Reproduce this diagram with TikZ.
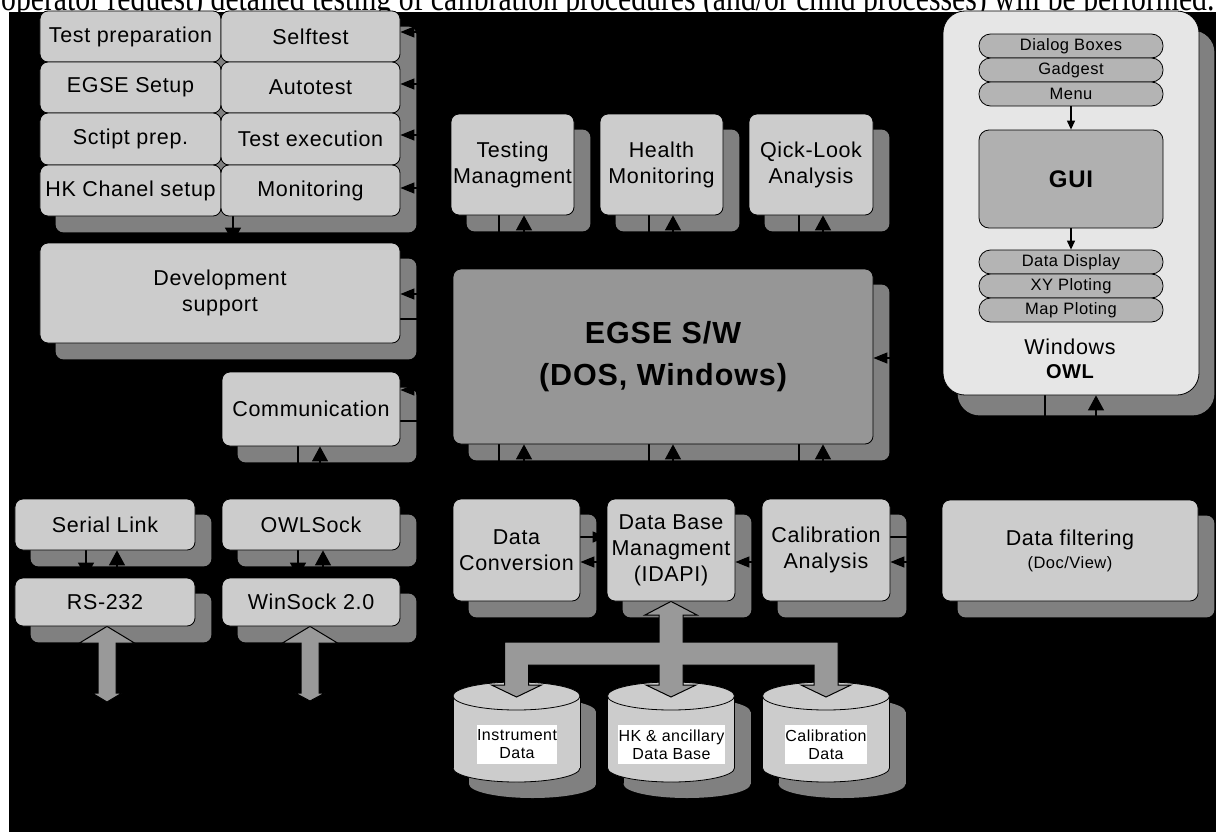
\documentclass[tikz,border=0pt]{standalone}
\usepackage{fontspec}
\usepackage{graphicx}
\usetikzlibrary{arrows.meta}
\newfontfamily\lab[LetterSpace=3]{Liberation Sans}
\newfontfamily\topfont{Liberation Serif}
\definecolor{boxg}{HTML}{CCCCCC}
\definecolor{shadeg}{HTML}{808080}
\definecolor{egseg}{HTML}{969696}
\definecolor{pillg}{HTML}{B4B4B4}
\definecolor{guig}{HTML}{B0B0B0}
\definecolor{panelg}{HTML}{E6E6E6}
\definecolor{pipeg}{HTML}{999999}
\pgfdeclarelayer{bg}
\pgfdeclarelayer{shade}
\pgfdeclarelayer{wires}
\pgfsetlayers{bg,shade,wires,main}
\tikzset{
  lbl/.style={font=\lab\fontsize{21.5bp}{26bp}\selectfont},
  sz/.style 2 args={minimum width=#1bp, minimum height=#2bp},
  box/.style={draw=black, line width=0.8bp, fill=boxg, rounded corners=8bp,
    inner sep=0pt, align=center, text=black, lbl},
  pill/.style={draw=black, line width=0.8bp, fill=pillg, rounded corners=11.5bp,
    inner sep=0pt, minimum width=184bp, minimum height=24bp,
    font=\lab\fontsize{16.5bp}{19bp}\selectfont},
  tag/.style={fill=white, inner sep=0pt, align=center,
    font=\lab\fontsize{16bp}{18bp}\selectfont},
  wire/.style={draw=black, line width=1.2bp},
  tov/.style={-{Triangle[length=15bp,width=16bp]}},
  toh/.style={-{Triangle[length=14bp,width=11bp]}},
  pipe/.style={fill=pipeg, draw=black, line width=1bp, line join=miter},
}
% drop shadow of a box (or a group of boxes), offset down-right
\newcommand\castshadow[3][8bp]{%
  \fill[shadeg, rounded corners=#1] ([shift={(16,16)}]#2.north west)
    rectangle ([shift={(16,16)}]#3.south east);}
% data base cylinder with its shadow
\newcommand\dbdrum[1]{%
  \begin{pgfonlayer}{shade}
    \fill[shadeg] (#1+16-63.5,712) rectangle (#1+16+63.5,784);
    \fill[shadeg] (#1+16,784) ellipse [x radius=63.5bp, y radius=14bp];
    \fill[shadeg] (#1+16,712) ellipse [x radius=63.5bp, y radius=14bp];
  \end{pgfonlayer}
  \begin{pgfonlayer}{wires}
    \filldraw[fill=boxg, draw=black, line width=0.8bp] (#1,768) ellipse [x radius=63.5bp, y radius=14bp];
    \fill[boxg] (#1-63.5,696) rectangle (#1+63.5,768);
    \draw[black, line width=0.8bp] (#1-63.5,696) -- (#1-63.5,768) (#1+63.5,696) -- (#1+63.5,768);
    \filldraw[fill=boxg, draw=black, line width=0.8bp] (#1,696) ellipse [x radius=63.5bp, y radius=14bp];
  \end{pgfonlayer}}
\begin{document}
\begin{tikzpicture}[x=1bp, y=-1bp]
\useasboundingbox (0,0) rectangle (1216,832);

% ---- page background and the caption line above the figure
\begin{pgfonlayer}{bg}
  \fill[white] (0,0) rectangle (1216,832);
  \begin{scope}
    \clip (0,0) rectangle (1216,832);
    \node[anchor=base west, inner sep=0pt, font=\topfont\fontsize{26bp}{30bp}\selectfont] (note) at (1,10.5)
      {\scalebox{1}[1.25]{\resizebox{1213bp}{!}{operator request) detailed testing of calibration procedures (and/or child processes) will be performed.}}};
  \end{scope}
  \fill[black] (9,12) rectangle (1216,832);
\end{pgfonlayer}

% ---- test tasks
\node[box, sz={181}{51}] (tp)  at (130.5,36.5) {Test preparation};
\node[box, sz={179}{51}] (st)  at (310.5,36.5) {Selftest};
\node[box, sz={181}{51}] (es)  at (130.5,87.5) {EGSE Setup};
\node[box, sz={179}{51}] (at)  at (310.5,87.5) {Autotest};
\node[box, sz={181}{52}] (sp)  at (130.5,139) {Sctipt prep.};
\node[box, sz={179}{52}] (te)  at (310.5,139) {Test execution};
\node[box, sz={181}{51}] (hk)  at (130.5,190.5) {HK Chanel setup};
\node[box, sz={179}{51}] (mon) at (310.5,190.5) {Monitoring};

% ---- upper modules
\node[box, sz={123}{101}] (tm) at (512.5,164.5) {Testing\\Managment};
\node[box, sz={123}{101}] (hm) at (661.5,164.5) {Health\\Monitoring};
\node[box, sz={124}{101}] (ql) at (811,164.5) {Qick-Look\\Analysis};

% ---- core
\node[box, fill=egseg, sz={420}{175}, font=\lab\bfseries\fontsize{30.5bp}{42bp}\selectfont]
  (egse) at (663,356.5) {EGSE S/W\\(DOS, Windows)};

\node[box, sz={360}{100}] (dev)  at (220,293) {Development\\support};
\node[box, sz={178}{74}]  (comm) at (311,409) {Communication};

% ---- links
\node[box, sz={180}{51}] (sl)  at (105,524.5) {Serial Link};
\node[box, sz={180}{48}] (rs)  at (105,602) {RS-232};
\node[box, sz={178}{51}] (ows) at (311,524.5) {OWLSock};
\node[box, sz={178}{48}] (ws)  at (311,602) {WinSock 2.0};

% ---- data handling
\node[box, sz={127}{102}] (dc)  at (516.5,550) {Data\\Conversion};
\node[box, sz={128}{102}] (dbm) at (671,550) {Data Base\\Managment\\(IDAPI)};
\node[box, sz={128}{102}] (ca)  at (826,550) {Calibration\\Analysis};
\node[box, sz={256}{101}] (df)  at (1070,550.5) {Data filtering\\[-3bp]{\fontsize{16.5bp}{20bp}\selectfont(Doc/View)}};

% ---- Windows / OWL panel
\node[draw=black, line width=0.8bp, fill=panelg, rounded corners=22bp, inner sep=0pt,
  sz={256}{384}] (owl) at (1071,203) {};
\node[pill] (dlg)  at (1071,46) {Dialog Boxes};
\node[pill] (gad)  at (1071,70) {Gadgest};
\node[pill] (menu) at (1071,94) {Menu};
\node[box, fill=guig, rounded corners=10bp, sz={184}{98},
  font=\lab\bfseries\fontsize{24bp}{28bp}\selectfont] (gui) at (1071,179) {GUI};
\node[pill] (dd) at (1071,262) {Data Display};
\node[pill] (xy) at (1071,286) {XY Ploting};
\node[pill] (mp) at (1071,310) {Map Ploting};
\node[lbl, inner sep=0pt] (win) at (1070,347) {Windows};
\node[inner sep=0pt, font=\lab\bfseries\fontsize{20bp}{24bp}\selectfont] (owlt) at (1070,372) {OWL};
\draw[wire, -{Triangle[length=9bp,width=8bp]}] (menu.south) -- (gui.north);
\draw[wire, -{Triangle[length=9bp,width=8bp]}] (gui.south) -- (dd.north);

% ---- data bases
\dbdrum{516.5}
\dbdrum{671}
\dbdrum{826}
\coordinate (dbI) at (516.5,696);
\coordinate (dbH) at (671,696);
\coordinate (dbC) at (826,696);
\node[tag, sz={80}{39}]  (instr) at (517,744.5)   {Instrument\\Data};
\node[tag, sz={107}{39}] (hkdb)  at (671.5,744.5) {HK \& ancillary\\Data Base};
\node[tag, sz={82}{39}]  (cald)  at (826,744.5)   {Calibration\\Data};

% ---- shadows
\begin{pgfonlayer}{shade}
  \castshadow{tp}{mon}
  \foreach \n in {tm,hm,ql,egse,dev,comm,sl,rs,ows,ws,dc,dbm,ca,df}
    {\castshadow{\n}{\n}}
  \fill[shadeg, rounded corners=22bp] ([shift={(15,20)}]owl.north west)
    rectangle ([shift={(15,20)}]owl.south east);
\end{pgfonlayer}

% ---- connectors
\begin{pgfonlayer}{wires}
  \draw[wire,tov] (tm.south -| 499,0) -- (egse.north -| 499,0);
  \draw[wire,tov] (egse.north -| 524,0) -- (tm.south -| 524,0);
  \draw[wire,tov] (hm.south -| 649,0) -- (egse.north -| 649,0);
  \draw[wire,tov] (egse.north -| 673,0) -- (hm.south -| 673,0);
  \draw[wire,tov] (ql.south -| 799,0) -- (egse.north -| 799,0);
  \draw[wire,tov] (egse.north -| 823,0) -- (ql.south -| 823,0);

  \draw[wire,tov] (egse.south -| 499,0) -- (dc.north -| 499,0);
  \draw[wire,tov] (dc.north -| 524,0) -- (egse.south -| 524,0);
  \draw[wire,tov] (egse.south -| 649,0) -- (dbm.north -| 649,0);
  \draw[wire,tov] (dbm.north -| 673,0) -- (egse.south -| 673,0);
  \draw[wire,tov] (egse.south -| 799,0) -- (ca.north -| 799,0);
  \draw[wire,tov] (ca.north -| 823,0) -- (egse.south -| 823,0);

  \draw[wire,toh] (owl.west |- 0,358) -- (egse.east |- 0,358);
  \draw[wire,tov] (owl.south -| 1045,0) -- (df.north -| 1045,0);
  \draw[wire,tov] (df.north -| 1096,0) -- (owl.south -| 1096,0);

  \draw[wire,toh] (dc.east |- 0,537) -- (dbm.west |- 0,537);
  \draw[wire,toh] (dbm.west |- 0,562) -- (dc.east |- 0,562);
  \draw[wire,toh] (ca.west |- 0,562) -- (dbm.east |- 0,562);
  \draw[wire,toh] (ca.east |- 0,537) -- (df.west |- 0,537);
  \draw[wire,toh] (df.west |- 0,562) -- (ca.east |- 0,562);

  \draw[wire,toh] (egse.west |- 0,280) -| (436,32)  -- (st.east |- 0,32);
  \draw[wire,toh] (egse.west |- 0,280) -| (436,84)  -- (at.east |- 0,84);
  \draw[wire,toh] (egse.west |- 0,280) -| (436,135) -- (te.east |- 0,135);
  \draw[wire,toh] (egse.west |- 0,280) -| (436,188) -- (mon.east |- 0,188);
  \draw[wire,toh] (egse.west |- 0,294) -- (dev.east |- 0,294);
  \draw[wire,toh] (dev.east |- 0,319) -- (egse.west |- 0,319);
  \draw[wire,toh] (egse.west |- 0,390) -- (comm.east |- 0,390);
  \draw[wire,toh] (comm.east |- 0,421) -- (egse.west |- 0,421);
  \draw[wire,tov] (mon.south -| 233,0) -- (dev.north -| 233,0);

  \draw[wire,tov] (comm.south -| 298,0) -- (ows.north -| 298,0);
  \draw[wire,tov] (ows.north -| 320,0) -- (comm.south -| 320,0);
  \draw[wire,tov] (sl.south -| 86,0) -- (rs.north -| 86,0);
  \draw[wire,tov] (rs.north -| 117,0) -- (sl.south -| 117,0);
  \draw[wire,tov] (ows.south -| 298,0) -- (ws.north -| 298,0);
  \draw[wire,tov] (ws.north -| 323,0) -- (ows.south -| 323,0);

  % wide data paths
  \draw[pipe] (dbm.south) -- (697,615) -- (683,615) -- (683,642) -- (838,642) -- (838,685)
    -- (851,685) -- (826,697) -- (801,685) -- (814,685) -- (814,665) -- (683,665)
    -- (683,685) -- (696,685) -- (671,697) -- (646,685) -- (659,685) -- (659,665)
    -- (528.5,665) -- (528.5,685) -- (541.5,685) -- (516.5,697) -- (491.5,685)
    -- (504.5,685) -- (504.5,642) -- (659,642) -- (659,615) -- (645,615) -- cycle;
  \draw[pipe] (rs.south -| 107,0) -- (134.5,643) -- (116,643) -- (116,693) -- (122,693)
    -- (107,702) -- (92,693) -- (98,693) -- (98,643) -- (79.5,643) -- cycle;
  \draw[pipe] (ws.south -| 310,0) -- (337.5,643) -- (319,643) -- (319,693) -- (325,693)
    -- (310,701) -- (295,693) -- (301,693) -- (301,643) -- (282.5,643) -- cycle;
\end{pgfonlayer}
\end{tikzpicture}
\end{document}
